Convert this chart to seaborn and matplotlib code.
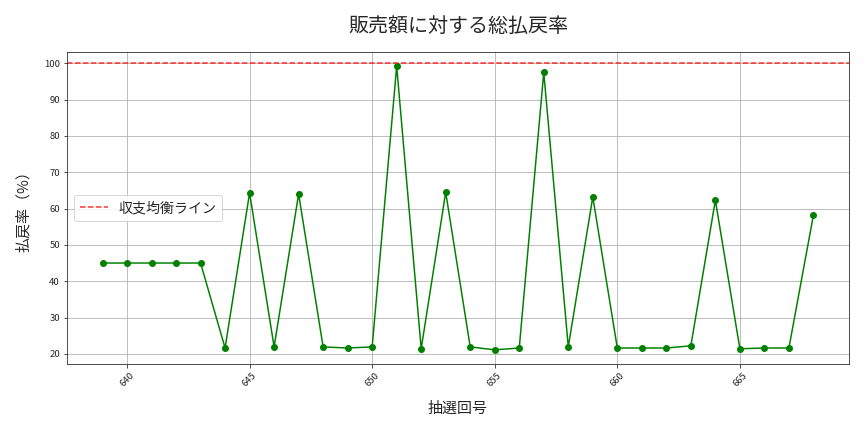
import pandas as pd
import matplotlib
matplotlib.use("Agg")
import matplotlib.pyplot as plt
import seaborn as sns

draw_numbers = list(range(639, 669))
payout_rates = [45.0, 45.0, 45.0, 45.0, 45.0, 21.6, 64.3, 21.9, 64.0, 21.9,
                21.6, 21.9, 99.2, 21.4, 64.5, 21.9, 21.1, 21.6, 97.5, 21.9,
                63.2, 21.6, 21.6, 21.6, 22.2, 62.3, 21.4, 21.6, 21.6, 58.2]
break_even = 100

df = pd.DataFrame({"draw": draw_numbers, "rate": payout_rates})

sns.set_style("ticks")
plt.rcParams["font.family"] = ["Noto Sans CJK JP", "DejaVu Sans"]

fig, ax = plt.subplots(figsize=(12, 6), dpi=72)
sns.lineplot(data=df, x="draw", y="rate", ax=ax, color="green",
             marker="o", markersize=7, markeredgewidth=0, linewidth=1.5)
ax.axhline(break_even, color="red", linestyle="--", alpha=0.8, linewidth=1.5, label="収支均衡ライン")

ax.set_title("販売額に対する総払戻率", fontsize=20, pad=20)
ax.set_xlabel("抽選回号", fontsize=15, labelpad=13)
ax.set_ylabel("払戻率（%）", fontsize=15, labelpad=13)
ax.tick_params(axis="both", labelsize=9.5)
plt.xticks(rotation=45)
ax.grid(True, color="#b0b0b0", linewidth=0.8)
ax.legend(loc="center left", fontsize=14)

fig.subplots_adjust(left=0.0775, right=0.9826, top=0.8796, bottom=0.1574)
plt.savefig("out.png", dpi=72)
